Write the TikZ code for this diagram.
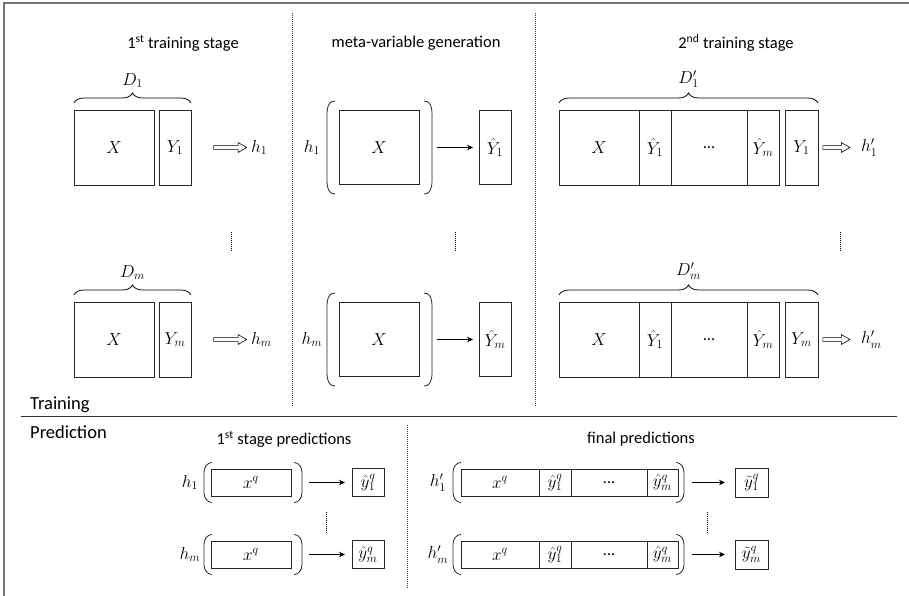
\documentclass[tikz,border=0pt]{standalone}
\usepackage{fontspec}
\setmainfont{Carlito}
\usetikzlibrary{arrows.meta,decorations.pathreplacing,shapes.arrows}

% round brackets round a block: \lpar{x}{centre y}{half height}
\newcommand{\lpar}[3]{\draw[paren] (#1+8,{#2-#3}) to[out=180,in=90] (#1,{#2-0.5*#3}) -- (#1,{#2+0.5*#3}) to[out=-90,in=180] (#1+8,{#2+#3});}
\newcommand{\rpar}[3]{\draw[paren] (#1-8,{#2-#3}) to[out=0,in=90] (#1,{#2-0.5*#3}) -- (#1,{#2+0.5*#3}) to[out=-90,in=0] (#1-8,{#2+#3});}

\tikzset{
  cell/.style={draw=black!85, line width=0.8pt, inner sep=0pt, outer sep=0pt, font=\fontsize{16.5}{19}\selectfont},
  head/.style={inner sep=1pt, font=\fontsize{16.5}{19}\selectfont},
  part/.style={inner sep=1pt, font=\fontsize{18.5}{21}\selectfont},
  lbl/.style={inner sep=0pt, font=\fontsize{16.5}{19}\selectfont},
  divider/.style={black!75, line width=0.8pt, dash pattern=on 1pt off 1pt},
  vdots/.style={line width=0.9pt, dash pattern=on 1pt off 1pt},
  fitarrow/.style={single arrow, draw, line width=0.6pt, inner xsep=0pt, inner ysep=1.6pt,
    single arrow head extend=3pt, single arrow tip angle=60, sloped},
  map/.style={-{Stealth[length=6pt,width=5.5pt]}, line width=0.8pt},
  paren/.style={line width=0.8pt, black!85},
  dbrace/.style={decorate, decoration={brace, amplitude=10pt}, line width=0.8pt},
}

\begin{document}
\begin{tikzpicture}[x=1pt,y=-1pt]
\useasboundingbox (0,0) rectangle (909,596);
% frame and dividers
\draw[black!55, line width=1.6pt] (4,596) -- (4,3) -- (909,3);
\draw[black!80, line width=0.9pt] (21,416) -- (897,416);
\draw[divider] (292.5,13) -- (292.5,407);
\draw[divider] (535,13) -- (535,407);
\draw[divider] (407,425) -- (407,588);
\node[part, anchor=west] (train) at (29,405) {Training};
\node[part, anchor=west] (pred) at (29,432) {Prediction};

% headings
\node[head] (st1) at (183,43) {1\textsuperscript{st} training stage};
\node[head] (meta) at (416,43) {meta-variable generation};
\node[head] (st2) at (736,43) {2\textsuperscript{nd} training stage};
\node[head] (pr1) at (284,439) {1\textsuperscript{st} stage predictions};
\node[head] (pr2) at (641,439) {final predictions};

% training rows
\foreach \i/\y in {1/147.5, m/339.5} {
  % 1st stage
  \node[cell, minimum width=80, minimum height=75] (xa\i) at (114,\y) {$X$};
  \node[cell, minimum width=32, minimum height=75] (ya\i) at (175,\y) {$Y_\i$};
  \node[lbl, anchor=west] (ha\i) at (251,\y) {$h_\i$};
  \path (ya\i.east) -- (ha\i.west) node[fitarrow, pos=0.625, minimum height=33pt] (fa\i) {};
  \draw[dbrace] ([yshift=7pt]xa\i.north west) -- ([yshift=7pt]ya\i.north east)
    node[midway, above=15pt, lbl] (da\i) {$D_\i$};
  % meta-variables
  \node[cell, minimum width=80, minimum height=74] (xb\i) at (379,\y) {$X$};
  \node[cell, minimum width=32, minimum height=74] (yb\i) at (495,\y) {$\hat{Y}_\i$};
  \node[lbl] (hb\i) at (312,\y) {$h_\i$};
  \lpar{327}{\y}{46.5}
  \rpar{432}{\y}{46.5}
  \draw[map, shorten <=18pt, shorten >=6pt] (xb\i) -- (yb\i);
  % 2nd stage
  \node[cell, minimum width=80, minimum height=75] (xc\i) at (599,\y) {$X$};
  \node[cell, minimum width=32, minimum height=75, anchor=west] (yc1\i) at (xc\i.east) {$\hat{Y}_1$};
  \node[cell, minimum width=76, minimum height=75, anchor=west] (ec\i) at (yc1\i.east) {\dots};
  \node[cell, minimum width=32, minimum height=75, anchor=west] (ycm\i) at (ec\i.east) {$\hat{Y}_m$};
  \node[cell, minimum width=33, minimum height=75] (yc\i) at (801.5,\y) {$Y_\i$};
  \node[lbl, anchor=west] (hc\i) at (861,\y) {$h'_\i$};
  \path (yc\i.east) -- (hc\i.west) node[fitarrow, pos=0.39, minimum height=27pt] (fc\i) {};
  \draw[dbrace] ([yshift=7pt]xc\i.north west) -- ([yshift=7pt]yc\i.north east)
    node[midway, above=15pt, lbl] (dc\i) {$D'_\i$};
}
\draw[vdots] (231,232) -- (231,252);
\draw[vdots] (455,232) -- (455,252);
\draw[vdots] (840,232) -- (840,252);

% prediction rows
\foreach \i/\y in {1/482.5, m/554.5} {
  \node[cell, minimum width=80, minimum height=27] (xd\i) at (251,\y) {$x^q$};
  \lpar{204}{\y}{20}
  \rpar{302}{\y}{20}
  \node[lbl] (hd\i) at (190,\y) {$h_\i$};
  \node[cell, minimum width=32, minimum height=28] (yd\i) at (368,\y) {$\hat{y}_\i^q$};
  \draw[map, shorten <=18pt, shorten >=7pt] (xd\i) -- (yd\i);
  % final
  \node[cell, minimum width=78, minimum height=27] (xe\i) at (500,\y) {$x^q$};
  \node[cell, minimum width=32, minimum height=27, anchor=west] (ye1\i) at (xe\i.east) {$\hat{y}_1^q$};
  \node[cell, minimum width=76, minimum height=27, anchor=west] (ee\i) at (ye1\i.east) {\dots};
  \node[cell, minimum width=31, minimum height=27, anchor=west] (yem\i) at (ee\i.east) {$\hat{y}_m^q$};
  \lpar{453}{\y}{20}
  \rpar{684}{\y}{20}
  \node[lbl] (he\i) at (438,\y) {$h'_\i$};
  \node[cell, minimum width=33, minimum height=29] (te\i) at (751.5,\y) {$\tilde{y}_\i^q$};
  \draw[map, shorten <=14pt, shorten >=10pt] (yem\i) -- (te\i);
}
\draw[vdots] (326,512) -- (326,533);
\draw[vdots] (707,512) -- (707,533);
\end{tikzpicture}
\end{document}
